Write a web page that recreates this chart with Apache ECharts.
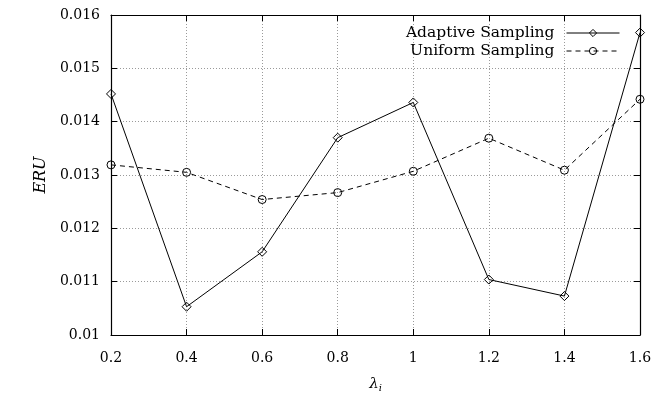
<!DOCTYPE html>
<html><head><meta charset="utf-8">
<script src="https://cdn.jsdelivr.net/npm/echarts@6/dist/echarts.min.js"></script>
<style>html,body{margin:0;padding:0;background:#fff}#c{width:655px;height:396px}</style>
</head><body><div id="c"></div>
<script>
const lambdas = [0.2, 0.4, 0.6, 0.8, 1.0, 1.2, 1.4, 1.6];
const adaptive = [0.01452, 0.01053, 0.01156, 0.01370, 0.01436, 0.01104, 0.01073, 0.01567];
const uniform = [0.01319, 0.01305, 0.01254, 0.01267, 0.01307, 0.01369, 0.01309, 0.01442];
const seriesNames = ['Adaptive Sampling', 'Uniform Sampling'];

const FONT = 'DejaVu Serif';
const chart = echarts.init(document.getElementById('c'));
const tickStyle = {show: true, inside: true, length: 6, lineStyle: {color: '#000', width: 1}};
const axisLine = {show: true, lineStyle: {color: '#000', width: 1.2}};
const split = {show: true, lineStyle: {color: '#9a9a9a', type: [1, 2], width: 1}};
const labelStyle = {color: '#000', fontFamily: FONT, fontSize: 14};

function pairs(ys) { return lambdas.map((x, i) => [x, ys[i]]); }
function legendFor(name, top) {
  return {data: [name], right: 35, top: top, itemWidth: 53, itemHeight: 9, align: 'right', padding: 0,
    lineStyle: {width: 1, color: '#000'},
    itemStyle: {color: 'rgba(0,0,0,0)', borderColor: '#000', borderWidth: 1},
    textStyle: {fontFamily: FONT, fontSize: 15.5, color: '#000', padding: [0, 7, 0, 0]}};
}

chart.setOption({
  animation: false,
  grid: {left: 111, right: 15, top: 15, bottom: 61, containLabel: false, outerBoundsMode: 'none'},
  legend: [legendFor(seriesNames[0], 25), legendFor(seriesNames[1], 43)],
  xAxis: [
    {type: 'value', min: 0.2, max: 1.6, interval: 0.2, axisLine, axisTick: tickStyle, splitLine: split,
     axisLabel: Object.assign({margin: 16}, labelStyle),
     name: '{l|λ}{s|i}', nameLocation: 'middle', nameGap: 40,
     nameTextStyle: {rich: {l: {fontFamily: FONT, fontStyle: 'italic', fontSize: 15, color: '#000'},
                            s: {fontFamily: FONT, fontStyle: 'italic', fontSize: 10, color: '#000', verticalAlign: 'bottom', padding: [8, 0, 0, 0]}}}},
    {type: 'value', position: 'top', min: 0.2, max: 1.6, interval: 0.2, axisLine, axisTick: tickStyle,
     splitLine: {show: false}, axisLabel: {show: false}}
  ],
  yAxis: [
    {type: 'value', min: 0.01, max: 0.016, interval: 0.001, axisLine, axisTick: tickStyle, splitLine: split,
     axisLabel: Object.assign({margin: 11}, labelStyle),
     name: 'ERU', nameLocation: 'middle', nameGap: 62, nameRotate: 90,
     nameTextStyle: {fontFamily: FONT, fontStyle: 'italic', fontSize: 16, color: '#000'}},
    {type: 'value', position: 'right', min: 0.01, max: 0.016, interval: 0.001, axisLine, axisTick: tickStyle,
     splitLine: {show: false}, axisLabel: {show: false}}
  ],
  series: [
    {name: seriesNames[0], type: 'line', data: pairs(adaptive), symbol: 'diamond', symbolSize: 9,
     lineStyle: {color: '#000', width: 1}, itemStyle: {color: 'rgba(0,0,0,0)', borderColor: '#000', borderWidth: 1}},
    {name: seriesNames[1], type: 'line', data: pairs(uniform), symbol: 'circle', symbolSize: 8,
     lineStyle: {color: '#000', width: 1, type: [5, 4]}, itemStyle: {color: 'rgba(0,0,0,0)', borderColor: '#000', borderWidth: 1}}
  ]
});
</script></body></html>
